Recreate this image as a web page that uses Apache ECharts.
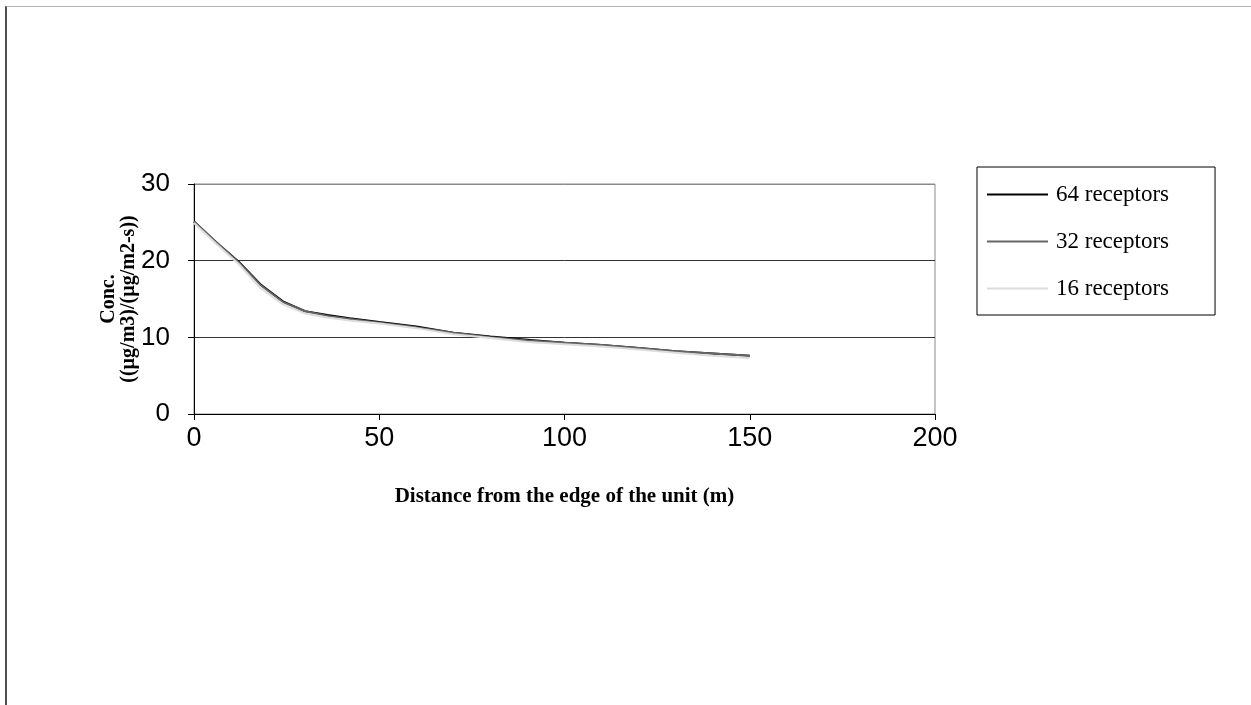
<!DOCTYPE html>
<html>
<head>
<meta charset="utf-8">
<script src="https://cdn.jsdelivr.net/npm/echarts@6/dist/echarts.min.js"></script>
<style>
  html, body { margin: 0; padding: 0; background: #fff; }
  #wrap { position: relative; width: 1251px; height: 705px; overflow: hidden; }
  #chart { position: absolute; left: 0; top: 0; width: 1251px; height: 705px; }
  #frame { position: absolute; left: 5px; top: 6px; right: -10px; bottom: -10px;
           border-top: 1px solid #b4b4b4; border-left: 2px solid #505050; pointer-events: none; }
</style>
</head>
<body>
<div id="wrap">
  <div id="chart"></div>
  <div id="frame"></div>
</div>
<script>
// Distance from the edge of the unit (m)
const distances = [0, 6, 12, 18, 24, 30, 36, 42, 50, 60, 70, 80, 90, 100, 110, 120, 130, 140, 150];
// Concentration ((µg/m3)/(µg/m2-s))
const rec64 = [25.1, 22.4, 19.9, 16.9, 14.7, 13.4, 12.9, 12.5, 12.0, 11.4, 10.6, 10.1, 9.7, 9.3, 9.0, 8.6, 8.2, 7.9, 7.6];
const rec32 = [25.1, 22.4, 19.8, 16.8, 14.6, 13.4, 12.8, 12.4, 11.9, 11.3, 10.6, 10.0, 9.6, 9.3, 9.0, 8.6, 8.2, 7.9, 7.6];
const rec16 = [24.9, 22.2, 19.6, 16.4, 14.3, 13.1, 12.6, 12.2, 11.8, 11.2, 10.4, 9.9, 9.4, 9.1, 8.8, 8.4, 8.0, 7.6, 7.3];
const seriesNames = ['64 receptors', '32 receptors', '16 receptors'];
const seriesColors = ['#000000', '#666666', '#dcdcdc'];
const yTicks = [0, 10, 20, 30];
const xTicks = [0, 50, 100, 150, 200];
const yTitle = 'Conc.\n((µg/m3)/(µg/m2-s))';
const xTitle = 'Distance from the edge of the unit (m)';

const pair = (ys) => distances.map((d, i) => [d, ys[i]]);
const allSeries = [rec64, rec32, rec16];

const chart = echarts.init(document.getElementById('chart'), null, { renderer: 'canvas' });
chart.setOption({
  animation: false,
  backgroundColor: '#ffffff',
  grid: {
    left: 194, right: 316, top: 184, bottom: 291,
    show: true, borderColor: '#8a8a8a', borderWidth: 1, backgroundColor: 'transparent'
  },
  graphic: [{
    type: 'text',
    x: 119, y: 299,
    rotation: Math.PI / 2,
    style: {
      text: yTitle,
      align: 'center', verticalAlign: 'middle',
      font: 'bold 20px "Liberation Serif"',
      lineHeight: 20,
      fill: '#000'
    }
  }],
  legend: {
    orient: 'vertical',
    left: 977, top: 167,
    padding: [16, 46, 15, 10],
    itemGap: 24,
    itemWidth: 61, itemHeight: 2,
    icon: 'rect',
    borderColor: '#000', borderWidth: 1,
    textStyle: { fontFamily: 'Liberation Serif', fontSize: 23, color: '#000', padding: [0, 0, 0, 3] },
    data: seriesNames
  },
  xAxis: {
    type: 'value', min: xTicks[0], max: xTicks[xTicks.length - 1], interval: 50,
    axisLine: { show: true, lineStyle: { color: '#000', width: 1 } },
    axisTick: { show: true, length: 6, inside: false, lineStyle: { color: '#000' } },
    splitLine: { show: false },
    axisLabel: { fontFamily: 'Liberation Sans', fontSize: 27, color: '#000', margin: 11 },
    name: xTitle,
    nameLocation: 'middle', nameGap: 72,
    nameTextStyle: { fontFamily: 'Liberation Serif', fontWeight: 'bold', fontSize: 21, color: '#000' }
  },
  yAxis: {
    type: 'value', min: yTicks[0], max: yTicks[yTicks.length - 1], interval: 10,
    axisLine: { show: true, lineStyle: { color: '#000', width: 1 } },
    axisTick: { show: true, length: 6, inside: false, lineStyle: { color: '#000' } },
    splitLine: { show: true, lineStyle: { color: ['#333', '#333', '#333', '#8a8a8a'], width: 1 } },
    axisLabel: { fontFamily: 'Liberation Sans', fontSize: 26, color: '#000', margin: 24 }
  },
  series: allSeries.map((ys, i) => ({
    name: seriesNames[i],
    type: 'line',
    data: pair(ys),
    showSymbol: false, symbol: 'none',
    smooth: false,
    lineStyle: { color: seriesColors[i], width: 2 },
    itemStyle: { color: seriesColors[i] },
    z: 2 + i
  }))
});
</script>
</body>
</html>
